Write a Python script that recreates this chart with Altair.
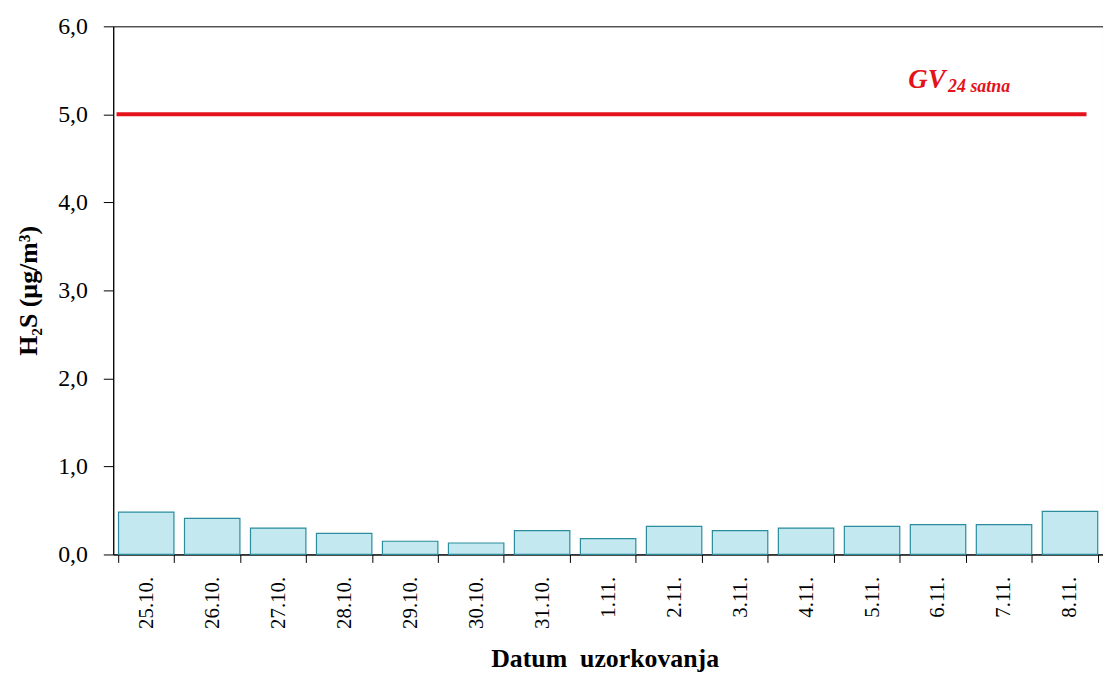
import altair as alt
import pandas as pd

dates = ["25.10.", "26.10.", "27.10.", "28.10.", "29.10.", "30.10.", "31.10.",
         "1.11.", "2.11.", "3.11.", "4.11.", "5.11.", "6.11.", "7.11.", "8.11."]
h2s = [0.48, 0.41, 0.30, 0.24, 0.15, 0.13, 0.27, 0.18, 0.32, 0.27, 0.30, 0.32, 0.34, 0.34, 0.49]

gv_value = 5.0
gv_x = [0.05, 14.75]
gv_label_x = [12.05]
gv_label_y = [5.30]

FONT = "Liberation Serif"
RED = "#e3121b"

bars_df = pd.DataFrame({"date": dates, "value": h2s})
gv_df = pd.DataFrame({"x": gv_x, "value": [gv_value] * len(gv_x)})
lbl_df = pd.DataFrame({"x": gv_label_x, "value": gv_label_y})

yscale = alt.Scale(domain=[0, 6], nice=False)
yaxis = alt.Axis(title="H₂S (µg/m³)", values=[0, 1, 2, 3, 4, 5, 6],
                 labelExpr="replace(format(datum.value, '.1f'), '.', ',')",
                 labelFont=FONT, labelFontSize=24, labelColor="black", labelPadding=16,
                 tickColor="black", tickSize=10, domainColor="black",
                 grid=False, titleFont=FONT, titleFontSize=26,
                 titleFontWeight="bold", titleColor="black", titlePadding=16)
Y = alt.Y("value:Q", scale=yscale, axis=yaxis)

bars = alt.Chart(bars_df).mark_bar(
    fill="#c3e8f0", stroke="#2a8c9c", strokeWidth=1.2
).encode(
    x=alt.X("date:N", sort=dates,
            scale=alt.Scale(paddingInner=0.16, paddingOuter=0.08),
            axis=alt.Axis(title="Datum\u00a0\u00a0uzorkovanja", labelAngle=-90, labelAlign="right",
                          labelBaseline="middle", labelFont=FONT, labelFontSize=21,
                          labelColor="black", labelPadding=14,
                          tickBand="extent", tickColor="black", tickSize=8,
                          domainColor="black", titleFont=FONT, titleFontSize=26,
                          titleFontWeight="bold", titleColor="black", titlePadding=17,
                          titleX=495)),
    y=Y,
)

xq = alt.Scale(domain=[0, 15], nice=False, zero=False)

gv_line = alt.Chart(gv_df).mark_line(color=RED, strokeWidth=4).encode(
    x=alt.X("x:Q", scale=xq, axis=None),
    y=Y,
)

gv_text = alt.Chart(lbl_df).mark_text(
    text="GV", font=FONT, fontSize=27, fontStyle="italic", fontWeight="bold",
    color=RED, align="left", baseline="alphabetic"
).encode(
    x=alt.X("x:Q", scale=xq, axis=None),
    y=Y,
)

gv_sub = alt.Chart(lbl_df).mark_text(
    text="24 satna", font=FONT, fontSize=18, fontStyle="italic", fontWeight="bold",
    color=RED, align="left", baseline="alphabetic", dx=40, dy=4
).encode(
    x=alt.X("x:Q", scale=xq, axis=None),
    y=Y,
)

chart = alt.layer(bars, gv_line, gv_text, gv_sub).resolve_scale(
    x="independent"
).properties(
    width=997, height=532,
    autosize=alt.AutoSizeParams(type="none"),
    padding={"left": 106, "top": 16, "right": 0, "bottom": 126},
    background="white",
).configure_view(
    stroke="black", strokeWidth=1
)

chart.save("out.html", embed_options={"renderer": "svg", "actions": False})
